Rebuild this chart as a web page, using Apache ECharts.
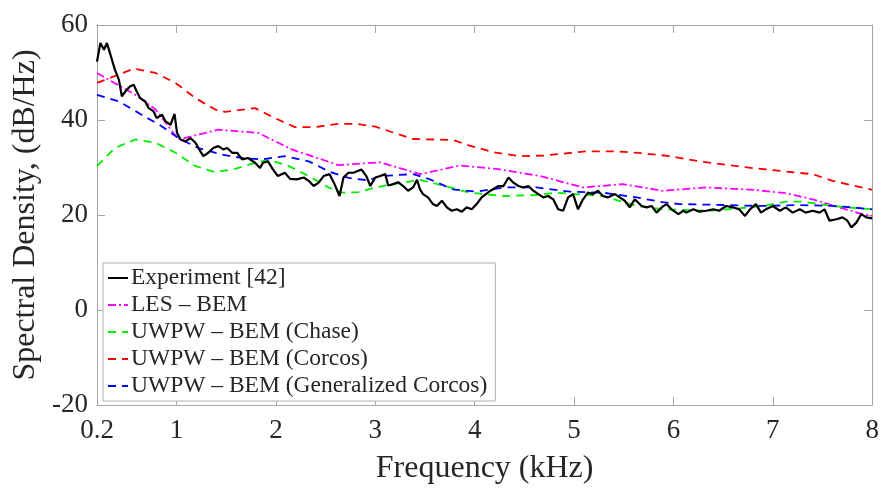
<!DOCTYPE html>
<html>
<head>
<meta charset="utf-8">
<script src="https://cdn.jsdelivr.net/npm/echarts@6/dist/echarts.min.js"></script>
<style>html,body{margin:0;padding:0;background:#fff;}#c{width:882px;height:490px;}</style>
</head>
<body>
<div id="c"></div>
<script>
// ---- data ----
const xTicks = [0.2, 1, 2, 3, 4, 5, 6, 7, 8];
const yTicks = [-20, 0, 20, 40, 60];

const expFreq = [0.2,0.234,0.27,0.30,0.32,0.35,0.38,0.42,0.45,0.50,0.535,0.57,0.60,0.635,0.685,0.72,0.77,0.80,0.855,0.89,0.94,0.98,1.005,1.04,1.09,1.14,1.19,1.24,1.27,1.32,1.37,1.42,1.47,1.51,1.56,1.61,1.66,1.72,1.79,1.84,1.87,1.92,1.97,2.02,2.09,2.143,2.21,2.28,2.33,2.38,2.43,2.48,2.54,2.59,2.64,2.68,2.73,2.78,2.83,2.86,2.91,2.95,3.0,3.05,3.10,3.13,3.18,3.23,3.28,3.33,3.38,3.42,3.45,3.48,3.53,3.58,3.62,3.67,3.72,3.77,3.82,3.87,3.92,3.97,4.02,4.07,4.10,4.15,4.24,4.29,4.34,4.39,4.44,4.49,4.54,4.59,4.64,4.69,4.74,4.79,4.84,4.89,4.94,4.99,5.04,5.09,5.14,5.19,5.24,5.29,5.34,5.41,5.46,5.51,5.56,5.61,5.68,5.73,5.78,5.83,5.88,5.93,5.98,6.05,6.10,6.13,6.20,6.26,6.33,6.40,6.46,6.53,6.60,6.66,6.72,6.77,6.83,6.88,6.93,7.0,7.07,7.13,7.20,7.27,7.33,7.40,7.47,7.52,7.57,7.64,7.70,7.75,7.79,7.84,7.89,7.94,8.0];
const expDb = [52.3,56.2,54.8,56.2,55.8,52.7,50.6,48.5,45.0,46.4,47.1,47.4,46.0,44.6,43.9,42.5,41.8,40.4,41.1,39.7,39.0,41.3,37.3,35.9,35.5,36.2,35.2,33.4,32.4,33.1,34.1,34.5,33.8,34.1,33.1,33.1,31.7,32.0,31.0,29.9,31.0,31.3,29.6,28.2,28.9,27.6,27.5,27.9,27.2,26.1,26.8,28.2,28.6,26.5,24.0,27.9,28.9,28.9,29.3,29.6,28.2,26.1,27.9,28.2,28.6,26.2,26.5,26.9,26.1,25.1,25.8,27.4,25.4,24.4,23.7,22.3,21.9,23.0,21.6,20.9,21.2,20.7,21.6,21.2,22.3,23.7,24.2,25.0,26.1,26.1,27.9,26.8,26.1,25.8,26.1,25.1,24.4,23.7,24.0,23.3,21.2,20.9,23.7,24.4,21.2,23.3,24.7,24.4,25.1,24.0,23.7,24.4,23.7,23.0,21.6,23.3,21.9,21.6,21.9,20.5,21.6,22.3,21.2,20.2,20.9,20.5,21.2,20.7,20.9,21.2,20.9,21.9,21.6,21.2,19.8,21.2,22.3,20.5,21.2,21.9,20.9,21.6,20.5,21.2,20.5,20.9,20.5,21.2,18.8,19.1,19.5,18.8,17.4,18.4,20.2,19.5,19.3];

const lesFreq = [0.2,0.585,0.79,1.02,1.42,1.82,2.16,2.63,3.05,3.45,3.85,4.22,4.66,5.09,5.49,5.89,6.33,6.8,7.13,7.4,7.67,7.9,8.0];
const lesDb   = [49.9,45.3,42.2,35.9,37.95,37.3,33.8,30.5,31.1,28.6,30.4,29.7,28.2,25.8,26.5,25.1,25.8,25.3,24.6,23.3,21.6,20.2,19.8];

const chaseFreq = [0.2,0.38,0.585,0.79,0.99,1.19,1.39,1.59,1.79,1.93,2.13,2.33,2.53,2.66,2.83,3.0,3.15,3.45,3.68,3.95,4.29,4.62,4.82,5.29,5.63,5.89,6.06,6.36,6.66,6.87,7.13,7.30,7.54,7.74,8.0];
const chaseDb   = [30.3,34.1,35.9,35.2,33.1,30.3,29.0,29.7,31.0,31.6,30.3,28.2,25.8,24.7,24.8,25.8,26.4,27.4,26.2,24.7,24.0,24.2,24.7,24.0,21.9,21.2,21.1,20.9,21.4,21.8,22.8,22.8,22.1,21.6,21.2];

const corcosFreq = [0.2,0.57,0.79,0.99,1.19,1.39,1.49,1.79,1.99,2.19,2.39,2.63,2.8,3.0,3.38,3.78,3.95,4.19,4.45,4.69,5.12,5.43,5.69,5.96,6.26,6.70,7.20,7.40,7.6,8.0];
const corcosDb   = [47.8,50.8,49.9,47.8,44.6,42.2,41.7,42.5,40.4,38.5,38.5,39.2,39.2,38.6,36.0,35.8,34.6,33.2,32.4,32.5,33.4,33.4,33.0,32.4,31.3,30.1,29.0,28.6,27.2,25.3];

const genFreq = [0.2,0.42,0.65,0.85,1.02,1.22,1.46,1.66,1.86,2.09,2.33,2.53,2.73,2.93,3.05,3.38,3.55,3.78,4.02,4.29,4.62,4.96,5.29,5.63,5.89,6.06,6.53,6.87,7.27,7.6,7.8,8.0];
const genDb   = [45.3,43.9,41.1,38.7,36.2,34.1,32.7,32.0,31.7,32.4,31.3,29.2,27.8,27.3,28.2,28.6,27.5,25.4,24.9,25.8,25.8,24.9,24.7,23.7,22.7,22.3,22.1,21.9,22.1,21.9,21.6,21.2];

const seriesNames = ['Experiment [42]', 'LES \u2013 BEM', 'UWPW \u2013 BEM (Chase)', 'UWPW \u2013 BEM (Corcos)', 'UWPW \u2013 BEM (Generalized Corcos)'];

// ---- chart ----
const zip = (a, b) => a.map((v, i) => [v, b[i]]);
const FONT = 'Liberation Serif';
const AX = '#a6a6a6';
const TXT = '#262626';

const chart = echarts.init(document.getElementById('c'), null, {renderer: 'canvas'});

function xAx(pos, labels) {
  return {
    type: 'value', position: pos, min: 0.2, max: 8,
    axisLine: {show: true, onZero: false, lineStyle: {color: AX, width: 1}},
    axisTick: {show: true, inside: true, length: 8, customValues: xTicks, lineStyle: {color: AX}},
    axisLabel: labels ? {show: true, customValues: xTicks, formatter: v => String(v), fontFamily: FONT, fontSize: 27, color: TXT, margin: 12} : {show: false},
    splitLine: {show: false},
    name: labels ? 'Frequency (kHz)' : '',
    nameLocation: 'middle', nameGap: 48,
    nameTextStyle: {fontFamily: FONT, fontSize: 32, color: TXT}
  };
}
function yAx(pos, labels) {
  return {
    type: 'value', position: pos, min: -20, max: 60, interval: 20,
    axisLine: {show: true, onZero: false, lineStyle: {color: AX, width: 1}},
    axisTick: {show: true, inside: true, length: 8, lineStyle: {color: AX}},
    axisLabel: labels ? {show: true, fontFamily: FONT, fontSize: 27, color: TXT, margin: 9} : {show: false},
    splitLine: {show: false},
    name: labels ? 'Spectral Density, (dB/Hz)' : '',
    nameLocation: 'middle', nameGap: 52,
    nameTextStyle: {fontFamily: FONT, fontSize: 32, color: TXT}
  };
}

function lineSeries(name, data, color, type, width) {
  return {
    name, type: 'line', data, xAxisIndex: 0, yAxisIndex: 0,
    symbol: 'none', smooth: false, animation: false,
    lineStyle: {color, type, width},
    itemStyle: {color}
  };
}

chart.setOption({
  animation: false,
  backgroundColor: '#fff',
  grid: {left: 97, right: 9, top: 25, bottom: 83, containLabel: false},
  xAxis: [xAx('bottom', true), xAx('top', false)],
  yAxis: [yAx('left', true), yAx('right', false)],
  legend: {
    show: true, orient: 'vertical', left: 103, top: 263,
    itemWidth: 20, itemHeight: 12, itemGap: 3,
    padding: [3, 8, 3, 4],
    backgroundColor: '#fff', borderColor: '#b0b0b0', borderWidth: 1,
    itemStyle: {opacity: 0},
    textStyle: {fontFamily: FONT, fontSize: 23.5, color: TXT, lineHeight: 22, padding: [0, 0, 0, -2]},
    data: seriesNames
  },
  series: [
    lineSeries(seriesNames[1], zip(lesFreq, lesDb), '#ff00ff', [8, 3, 2, 3], 1.8),
    lineSeries(seriesNames[2], zip(chaseFreq, chaseDb), '#00ee00', [8, 6], 1.8),
    lineSeries(seriesNames[3], zip(corcosFreq, corcosDb), '#ff0000', [8, 6], 1.8),
    lineSeries(seriesNames[4], zip(genFreq, genDb), '#0000ff', [8, 6], 1.8),
    lineSeries(seriesNames[0], zip(expFreq, expDb), '#000000', 'solid', 2.2)
  ]
});
</script>
</body>
</html>
